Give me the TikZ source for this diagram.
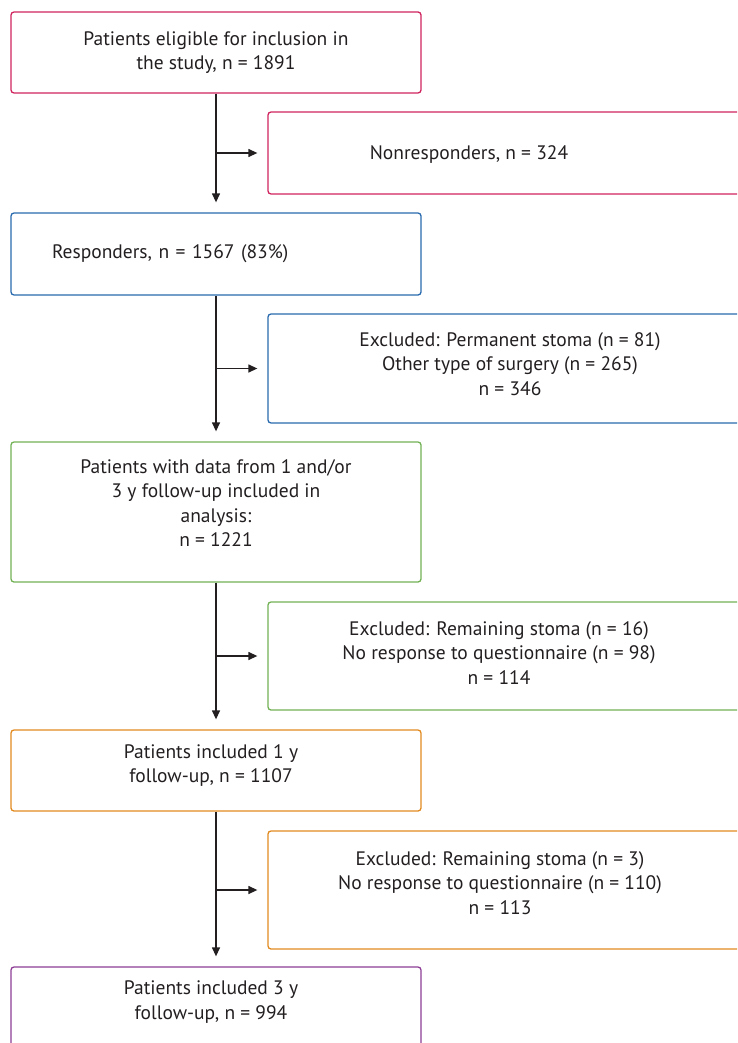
\documentclass[tikz,border=0pt]{standalone}
\usepackage{fontspec}
\setmainfont{PT Sans}
\usetikzlibrary{arrows.meta,positioning}
\usepackage{xcolor}
\definecolor{flowred}{HTML}{D0245E}
\definecolor{flowblue}{HTML}{2A6AAE}
\definecolor{flowgreen}{HTML}{72B254}
\definecolor{floworange}{HTML}{E08A20}
\definecolor{flowpurple}{HTML}{8E3E96}
\definecolor{flowtext}{HTML}{231F20}

\begin{document}
\begin{tikzpicture}[
    x=1pt, y=-1pt,
    box/.style={draw, rounded corners=3pt, line width=1.3pt, align=center, inner sep=0pt,
      minimum width=410pt, text=flowtext, font=\fontsize{19.5}{24.5}\selectfont},
    side/.style={draw, rounded corners=3pt, line width=1.3pt, inner sep=0pt, minimum width=492pt},
    txt/.style={align=center, inner sep=0pt, text=flowtext, font=\fontsize{19.5}{24.5}\selectfont},
    flow/.style={->, draw=flowtext, line width=1.3pt, shorten >=10pt},
    >={Triangle[length=9pt,width=8pt]}
  ]
  \useasboundingbox (0,0) rectangle (737,1043);
  \clip (0,0) rectangle (737,1043);

  % main column
  \node[box, draw=flowred, minimum height=81pt] (elig) at (216,52.5) {Patients eligible for inclusion in\\the study, n = 1891};
  \node[box, draw=flowblue, minimum height=82pt, text width=328pt, align=left] (resp) at (216,254) {Responders, n = 1567 (83\%)};
  \node[box, draw=flowgreen, minimum height=140pt] (anal) at (216,512) {};
  \node[txt] (analtxt) at (216,503) {Patients with data from 1 and/or\\3 y follow-up included in\\analysis:\\n = 1221};
  \node[box, draw=floworange, minimum height=81pt] (oney) at (216,770.5) {};
  \node[txt] (oneytxt) at (211,765.5) {Patients included 1 y\\follow-up, n = 1107};
  \node[box, draw=flowpurple, minimum height=82pt] (threey) at (216,1008) {};
  \node[txt] (threeytxt) at (211,1002) {Patients included 3 y\\follow-up, n = 994};

  % side boxes
  \node[side, draw=flowred, minimum height=82pt] (nonr) at (514,153) {};
  \node[txt] (nonrtxt) at (469,155) {Nonresponders, n = 324};
  \node[side, draw=flowblue, minimum height=109pt] (exc1) at (514,368.5) {};
  \node[txt] (exc1txt) at (510,364) {Excluded: Permanent stoma (n = 81)\\Other type of surgery (n = 265)\\n = 346};
  \node[side, draw=flowgreen, minimum height=108pt] (exc2) at (514,656) {};
  \node[txt] (exc2txt) at (499,653) {Excluded: Remaining stoma (n = 16)\\No response to questionnaire (n = 98)\\n = 114};
  \node[side, draw=floworange, minimum height=118pt] (exc3) at (514,890) {};
  \node[txt] (exc3txt) at (500,883) {Excluded: Remaining stoma (n = 3)\\No response to questionnaire (n = 110)\\n = 113};

  % connectors
  \draw[flow] (elig) -- (resp);
  \draw[flow] (resp) -- (anal);
  \draw[flow] (anal) -- (oney);
  \draw[flow] (oney) -- (threey);
  \draw[flow] (elig.south |- nonr.west) -- (nonr.west);
  \draw[flow] (resp.south |- exc1.west) -- (exc1.west);
  \draw[flow] (anal.south |- exc2.west) -- (exc2.west);
  \draw[flow] (oney.south |- exc3.west) -- (exc3.west);
\end{tikzpicture}
\end{document}
